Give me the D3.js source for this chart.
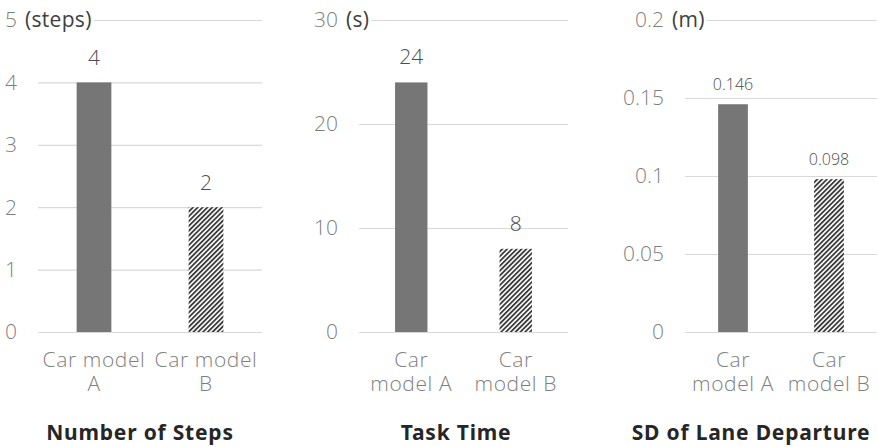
<!DOCTYPE html>
<html>
<head>
<meta charset="utf-8">
<script src="https://cdn.jsdelivr.net/npm/d3@7"></script>
<style>
  html, body { margin: 0; padding: 0; background: #fff; }
  svg { display: block; }
  .tick-label { font-family: "Open Sans", "Noto Sans", sans-serif; font-weight: 300; fill: #7f7f7f; }
  .unit-label { font-family: "Open Sans", "Noto Sans", sans-serif; font-weight: 400; fill: #404040; }
  .cat-label { font-family: "Open Sans", "Noto Sans", sans-serif; font-weight: 300; fill: #7f7f7f; }
  .value-label { font-family: "Open Sans", "Noto Sans", sans-serif; font-weight: 300; fill: #4d4d4d; }
  .title { font-family: "Noto Sans", "Open Sans", sans-serif; font-weight: 700; fill: #262626; }
</style>
</head>
<body>
<svg id="chart" width="878" height="447"></svg>
<script>
// Categories shared by all three panels
const categories = ["Car model A", "Car model B"];

// Series values per measure
const stepsValues = [4, 2];
const taskTimeValues = [24, 8];
const laneDepartureValues = [0.146, 0.098];

// Tick labels per measure
const stepsTicks = [0, 1, 2, 3, 4, 5];
const taskTimeTicks = [0, 10, 20, 30];
const laneDepartureTicks = [0, 0.05, 0.1, 0.15, 0.2];

// Units and titles
const units = ["(steps)", "(s)", "(m)"];
const titles = ["Number of Steps", "Task Time", "SD of Lane Departure"];

// Panel layout
const panels = [
  { values: stepsValues, ticks: stepsTicks, unit: units[0], title: titles[0],
    x0: 38, x1: 262, titleX: 140, wrapAfter: 2, valueSize: 21, valueGap: 17 },
  { values: taskTimeValues, ticks: taskTimeTicks, unit: units[1], title: titles[1],
    x0: 359, x1: 568, titleX: 456, wrapAfter: 1, valueSize: 21, valueGap: 18 },
  { values: laneDepartureValues, ticks: laneDepartureTicks, unit: units[2], title: titles[2],
    x0: 685, x1: 877, titleX: 751, wrapAfter: 1, valueSize: 16, valueGap: 14 }
];

const yTop = 20, yBottom = 332;
const svg = d3.select("#chart");

// Diagonal hatch for the second bar
const defs = svg.append("defs");
defs.append("pattern")
  .attr("id", "hatch")
  .attr("patternUnits", "userSpaceOnUse")
  .attr("width", 3.4).attr("height", 3.4)
  .attr("patternTransform", "rotate(45)")
  .call(p => {
    p.append("rect").attr("width", 3.4).attr("height", 3.4).attr("fill", "#ffffff");
    p.append("line").attr("x1", 0.9).attr("y1", 0).attr("x2", 0.9).attr("y2", 3.4)
      .attr("stroke", "#3a3a3a").attr("stroke-width", 1.8);
  });

panels.forEach(pn => {
  const g = svg.append("g");
  const y = d3.scaleLinear()
    .domain([0, pn.ticks[pn.ticks.length - 1]])
    .range([yBottom, yTop]);
  const x = d3.scaleBand().domain(categories).range([pn.x0, pn.x1]).padding(0);
  const barW = x.bandwidth() * 0.31;

  // Gridlines
  g.selectAll("line.grid").data(pn.ticks).join("line")
    .attr("class", "grid")
    .attr("x1", pn.x0).attr("x2", pn.x1)
    .attr("y1", d => y(d) + 0.5).attr("y2", d => y(d) + 0.5)
    .attr("stroke", "#d9d9d9").attr("stroke-width", 1.2);

  // Tick labels
  const fmt = d3.format("~g");
  g.selectAll("text.tick-label").data(pn.ticks).join("text")
    .attr("class", "tick-label")
    .attr("x", pn.x0 - 21)
    .attr("y", d => y(d))
    .attr("dy", "0.35em")
    .attr("text-anchor", "end")
    .attr("font-size", 21)
    .text(d => fmt(d));

  // Unit label next to the top tick, masking the top gridline
  const topVal = pn.ticks[pn.ticks.length - 1];
  const unitText = g.append("text")
    .attr("class", "unit-label")
    .attr("x", pn.x0 - 13)
    .attr("y", y(topVal))
    .attr("dy", "0.35em")
    .attr("font-size", 21)
    .attr("letter-spacing", 0.3)
    .text(pn.unit);
  const bb = unitText.node().getBBox();
  g.insert("rect", ".unit-label")
    .attr("x", bb.x - 2).attr("y", y(topVal) - 3)
    .attr("width", bb.width + 4).attr("height", 6)
    .attr("fill", "#fff");

  // Bars
  g.selectAll("rect.bar").data(pn.values).join("rect")
    .attr("class", "bar")
    .attr("x", (d, i) => x(categories[i]) + x.bandwidth() / 2 - barW / 2)
    .attr("y", d => y(d))
    .attr("width", barW)
    .attr("height", d => y(0) - y(d))
    .attr("fill", (d, i) => i === 0 ? "#767676" : "url(#hatch)");

  // Value labels
  g.selectAll("text.value-label").data(pn.values).join("text")
    .attr("class", "value-label")
    .attr("x", (d, i) => x(categories[i]) + x.bandwidth() / 2)
    .attr("y", d => y(d) - pn.valueGap)
    .attr("text-anchor", "middle")
    .attr("font-size", pn.valueSize)
    .text(d => d);

  // Category labels, wrapped onto two lines
  categories.forEach(c => {
    const words = c.split(" ");
    const lines = [words.slice(0, pn.wrapAfter).join(" "), words.slice(pn.wrapAfter).join(" ")];
    const t = g.append("text")
      .attr("class", "cat-label")
      .attr("text-anchor", "middle")
      .attr("font-size", 21)
      .attr("letter-spacing", 0.6);
    lines.forEach((ln, k) => {
      t.append("tspan")
        .attr("x", x(c) + x.bandwidth() / 2)
        .attr("y", 367 + k * 24)
        .text(ln);
    });
  });

  // Panel title
  g.append("text")
    .attr("class", "title")
    .attr("x", pn.titleX)
    .attr("y", 440)
    .attr("text-anchor", "middle")
    .attr("font-size", 21)
    .attr("letter-spacing", 0.8)
    .text(pn.title);
});
</script>
</body>
</html>
